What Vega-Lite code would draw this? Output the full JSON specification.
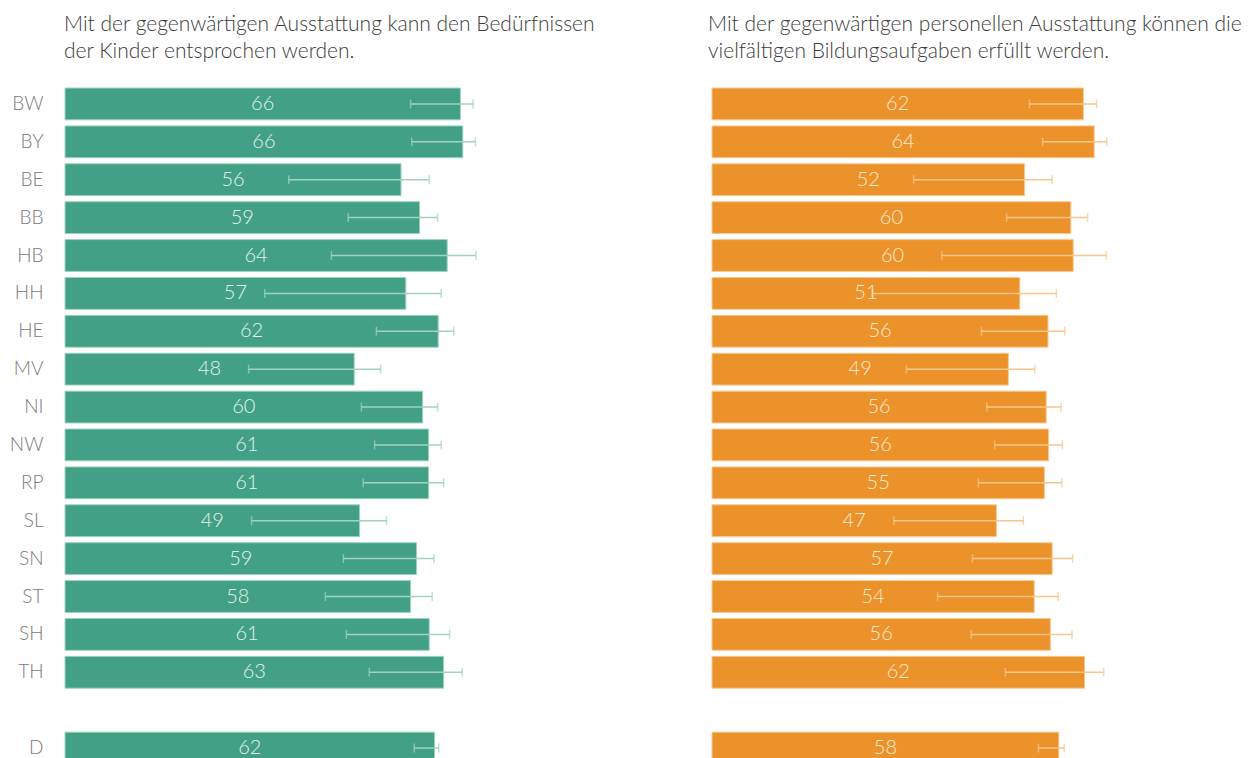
{
  "$schema": "https://vega.github.io/schema/vega-lite/v6.json",
  "background": "white",
  "padding": {"left": 9, "top": 14, "right": 0, "bottom": 0},
  "config": {
    "view": {"stroke": null},
    "font": "Lato",
    "title": {"font": "Lato", "fontWeight": 300, "fontSize": 21, "lineHeight": 27, "color": "#3c3c3c", "anchor": "start", "frame": "group", "offset": 23},
    "axis": {"labelFont": "Lato", "labelFontWeight": 300}
  },
  "datasets": {
    "rows": [
      {"panel": "A", "state": "BW", "v": 65.9, "lo": 57.6, "hi": 68.0},
      {"panel": "A", "state": "BY", "v": 66.3, "lo": 57.8, "hi": 68.4},
      {"panel": "A", "state": "BE", "v": 56.0, "lo": 37.3, "hi": 60.7},
      {"panel": "A", "state": "BB", "v": 59.1, "lo": 47.2, "hi": 62.1},
      {"panel": "A", "state": "HB", "v": 63.7, "lo": 44.4, "hi": 68.5},
      {"panel": "A", "state": "HH", "v": 56.8, "lo": 33.3, "hi": 62.7},
      {"panel": "A", "state": "HE", "v": 62.2, "lo": 51.9, "hi": 64.8},
      {"panel": "A", "state": "MV", "v": 48.2, "lo": 30.6, "hi": 52.6},
      {"panel": "A", "state": "NI", "v": 59.6, "lo": 49.4, "hi": 62.1},
      {"panel": "A", "state": "NW", "v": 60.6, "lo": 51.6, "hi": 62.7},
      {"panel": "A", "state": "RP", "v": 60.6, "lo": 49.7, "hi": 63.1},
      {"panel": "A", "state": "SL", "v": 49.1, "lo": 31.1, "hi": 53.6},
      {"panel": "A", "state": "SN", "v": 58.6, "lo": 46.4, "hi": 61.5},
      {"panel": "A", "state": "ST", "v": 57.6, "lo": 43.4, "hi": 61.2},
      {"panel": "A", "state": "SH", "v": 60.7, "lo": 46.9, "hi": 64.1},
      {"panel": "A", "state": "TH", "v": 63.1, "lo": 50.7, "hi": 66.2},
      {"panel": "A", "state": "D", "v": 61.6, "lo": 58.2, "hi": 62.3},
      {"panel": "B", "state": "BW", "v": 61.9, "lo": 52.9, "hi": 64.1},
      {"panel": "B", "state": "BY", "v": 63.7, "lo": 55.1, "hi": 65.8},
      {"panel": "B", "state": "BE", "v": 52.1, "lo": 33.6, "hi": 56.7},
      {"panel": "B", "state": "BB", "v": 59.8, "lo": 49.1, "hi": 62.6},
      {"panel": "B", "state": "HB", "v": 60.2, "lo": 38.3, "hi": 65.7},
      {"panel": "B", "state": "HH", "v": 51.3, "lo": 26.8, "hi": 57.4},
      {"panel": "B", "state": "HE", "v": 56.0, "lo": 44.9, "hi": 58.8},
      {"panel": "B", "state": "MV", "v": 49.4, "lo": 32.4, "hi": 53.8},
      {"panel": "B", "state": "NI", "v": 55.7, "lo": 45.8, "hi": 58.2},
      {"panel": "B", "state": "NW", "v": 56.1, "lo": 47.1, "hi": 58.4},
      {"panel": "B", "state": "RP", "v": 55.4, "lo": 44.4, "hi": 58.3},
      {"panel": "B", "state": "SL", "v": 47.4, "lo": 30.3, "hi": 51.9},
      {"panel": "B", "state": "SN", "v": 56.7, "lo": 43.4, "hi": 60.1},
      {"panel": "B", "state": "ST", "v": 53.7, "lo": 37.6, "hi": 57.7},
      {"panel": "B", "state": "SH", "v": 56.4, "lo": 43.2, "hi": 60.0},
      {"panel": "B", "state": "TH", "v": 62.1, "lo": 48.9, "hi": 65.3},
      {"panel": "B", "state": "D", "v": 57.8, "lo": 54.4, "hi": 58.7}
    ]
  },
  "hconcat": [
    {
      "title": {"text": ["Mit der gegenwärtigen Ausstattung kann den Bedürfnissen", "der Kinder entsprochen werden."], "dx": -1},
      "data": {"name": "rows"},
      "transform": [{"filter": "datum.panel === 'A'"}],
      "width": 528,
      "height": 682,
      "encoding": {
        "y": {
          "field": "state", "type": "nominal",
          "scale": {"domain": ["BW","BY","BE","BB","HB","HH","HE","MV","NI","NW","RP","SL","SN","ST","SH","TH"," ","D"], "paddingInner": 0.16, "paddingOuter": 0.08},
          "axis": {"title": null, "domain": false, "ticks": false, "labelPadding": 22, "labelFontSize": 19, "labelColor": "#7a7a7a", "minExtent": 55, "maxExtent": 55}
        }
      },
      "layer": [
        {"mark": {"type": "bar", "color": "#41a085", "stroke": "#9fd3c1", "strokeWidth": 1},
         "encoding": {"x": {"field": "v", "type": "quantitative", "scale": {"domain": [0, 88]}, "axis": null}}},
        {"mark": {"type": "rule", "color": "#a3d2c2", "strokeWidth": 1.5},
         "encoding": {"x": {"field": "lo", "type": "quantitative", "scale": {"domain": [0, 88]}, "axis": null}, "x2": {"field": "hi"}}},
        {"mark": {"type": "tick", "color": "#a3d2c2", "thickness": 1.5, "size": 9},
         "encoding": {"x": {"field": "lo", "type": "quantitative", "scale": {"domain": [0, 88]}, "axis": null}}},
        {"mark": {"type": "tick", "color": "#a3d2c2", "thickness": 1.5, "size": 9},
         "encoding": {"x": {"field": "hi", "type": "quantitative", "scale": {"domain": [0, 88]}, "axis": null}}},
        {"layer": [
          {"mark": {"type": "text", "color": "#e4f3ee", "fontSize": 20, "fontWeight": 300, "font": "Lato", "align": "center", "baseline": "middle"},
           "encoding": {"x": {"field": "v", "type": "quantitative", "scale": {"domain": [0, 176]}, "axis": null}, "text": {"field": "v", "type": "quantitative", "format": ".0f"}}}
        ]}
      ],
      "resolve": {"scale": {"x": "independent"}}
    },
    {
      "title": {"text": ["Mit der gegenwärtigen personellen Ausstattung können die", "vielfältigen Bildungsaufgaben erfüllt werden."], "dx": -4},
      "data": {"name": "rows"},
      "transform": [{"filter": "datum.panel === 'B'"}],
      "width": 528,
      "height": 682,
      "encoding": {
        "y": {
          "field": "state", "type": "nominal",
          "scale": {"domain": ["BW","BY","BE","BB","HB","HH","HE","MV","NI","NW","RP","SL","SN","ST","SH","TH"," ","D"], "paddingInner": 0.16, "paddingOuter": 0.08},
          "axis": null
        }
      },
      "layer": [
        {"mark": {"type": "bar", "color": "#ec922b", "stroke": "#f8c991", "strokeWidth": 1},
         "encoding": {"x": {"field": "v", "type": "quantitative", "scale": {"domain": [0, 88]}, "axis": null}}},
        {"mark": {"type": "rule", "color": "#f7c68c", "strokeWidth": 1.5},
         "encoding": {"x": {"field": "lo", "type": "quantitative", "scale": {"domain": [0, 88]}, "axis": null}, "x2": {"field": "hi"}}},
        {"mark": {"type": "tick", "color": "#f7c68c", "thickness": 1.5, "size": 9},
         "encoding": {"x": {"field": "lo", "type": "quantitative", "scale": {"domain": [0, 88]}, "axis": null}}},
        {"mark": {"type": "tick", "color": "#f7c68c", "thickness": 1.5, "size": 9},
         "encoding": {"x": {"field": "hi", "type": "quantitative", "scale": {"domain": [0, 88]}, "axis": null}}},
        {"layer": [
          {"mark": {"type": "text", "color": "#fdebd4", "fontSize": 20, "fontWeight": 300, "font": "Lato", "align": "center", "baseline": "middle"},
           "encoding": {"x": {"field": "v", "type": "quantitative", "scale": {"domain": [0, 176]}, "axis": null}, "text": {"field": "v", "type": "quantitative", "format": ".0f"}}}
        ]}
      ],
      "resolve": {"scale": {"x": "independent"}}
    }
  ],
  "spacing": 112
}
